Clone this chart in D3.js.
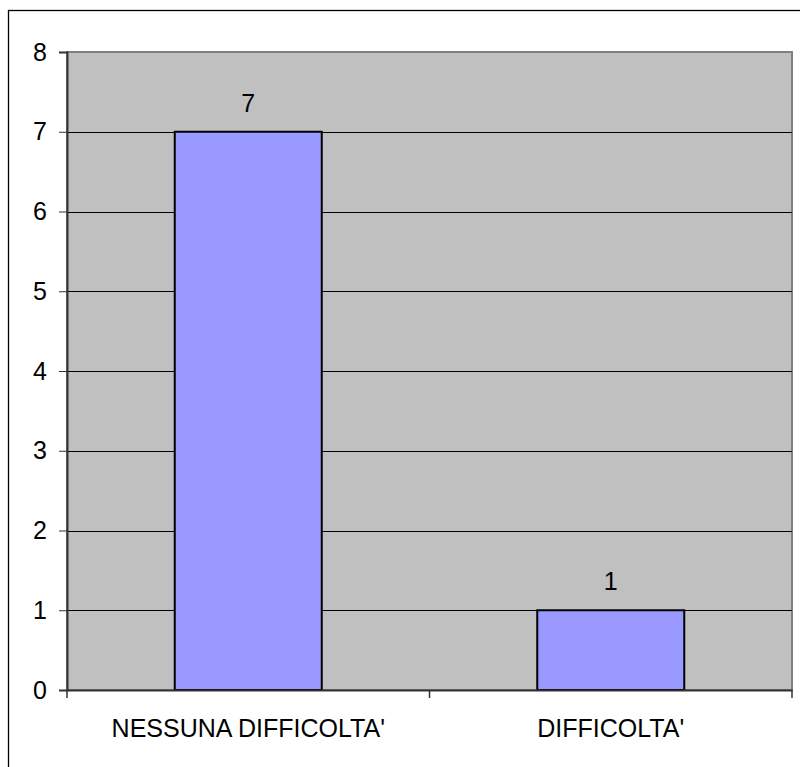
<!DOCTYPE html>
<html>
<head>
<meta charset="utf-8">
<script src="https://cdn.jsdelivr.net/npm/d3@7"></script>
<style>
  body { margin: 0; background: #fff; }
  svg { display: block; font-family: Arial, "Liberation Sans", sans-serif; }
</style>
</head>
<body>
<div class="chart"></div>
<script>
const categories = ["NESSUNA DIFFICOLTA'", "DIFFICOLTA'"];
const values = [7, 1];
const yTicks = [0, 1, 2, 3, 4, 5, 6, 7, 8];

const W = 800, H = 767;
const margin = { top: 52, right: 8, bottom: 77, left: 67 };
const width = W - margin.left - margin.right;
const height = H - margin.top - margin.bottom;

const svg = d3.select(".chart")
    .append("svg")
    .attr("width", W)
    .attr("height", H);

// outer frame (runs off right and bottom edge)
svg.append("rect")
    .attr("x", 8.5)
    .attr("y", 10.5)
    .attr("width", W + 20)
    .attr("height", H + 20)
    .attr("fill", "none")
    .attr("stroke", "#000")
    .attr("stroke-width", 1.3);

const g = svg.append("g")
    .attr("transform", `translate(${margin.left},${margin.top})`);

const x = d3.scaleBand()
    .domain(categories)
    .range([0, width])
    .paddingInner(0)
    .paddingOuter(0);

const y = d3.scaleLinear()
    .domain([0, 8])
    .range([height, 0]);

// plot background
g.append("rect")
    .attr("width", width)
    .attr("height", height)
    .attr("fill", "#C0C0C0")
    .attr("stroke", "#808080")
    .attr("stroke-width", 2);

// gridlines
g.selectAll(".grid")
    .data(yTicks.filter(d => d > 0 && d < 8))
    .enter()
    .append("line")
    .attr("x1", 0)
    .attr("x2", width)
    .attr("y1", d => Math.round(y(d)) + 0.5)
    .attr("y2", d => Math.round(y(d)) + 0.5)
    .attr("stroke", "#000")
    .attr("stroke-width", 1);

// bars
const barW = 147;
g.selectAll(".bar")
    .data(values)
    .enter()
    .append("rect")
    .attr("x", (d, i) => x(categories[i]) + x.bandwidth() / 2 - barW / 2)
    .attr("y", d => y(d))
    .attr("width", barW)
    .attr("height", d => height - y(d))
    .attr("fill", "#9999FF")
    .attr("stroke", "#000")
    .attr("stroke-width", 2);

// value labels
g.selectAll(".val")
    .data(values)
    .enter()
    .append("text")
    .attr("x", (d, i) => x(categories[i]) + x.bandwidth() / 2)
    .attr("y", d => y(d) - 20)
    .attr("text-anchor", "middle")
    .style("font-size", "25px")
    .attr("fill", "#000")
    .text(d => d);

// y axis
const yAxis = g.append("g")
    .call(d3.axisLeft(y).tickValues(yTicks).tickSize(8).tickPadding(12).tickFormat(d3.format("d")));
yAxis.select(".domain").attr("stroke", "#333").attr("stroke-width", 2);
yAxis.selectAll(".tick line").attr("stroke", "#333");
yAxis.selectAll("text")
    .style("font-size", "25px")
    .attr("fill", "#000");

// x axis
const xAxis = g.append("g")
    .attr("transform", `translate(0,${height})`)
    .call(d3.axisBottom(x).tickSize(0).tickPadding(29));
xAxis.select(".domain").attr("stroke", "#333").attr("stroke-width", 2);
xAxis.selectAll("text")
    .style("font-size", "25px")
    .attr("fill", "#000");

// category separator ticks
g.selectAll(".sep")
    .data([0, width / 2, width])
    .enter()
    .append("line")
    .attr("x1", d => d)
    .attr("x2", d => d)
    .attr("y1", height)
    .attr("y2", height + 8)
    .attr("stroke", "#333")
    .attr("stroke-width", 1.5);
</script>
</body>
</html>
